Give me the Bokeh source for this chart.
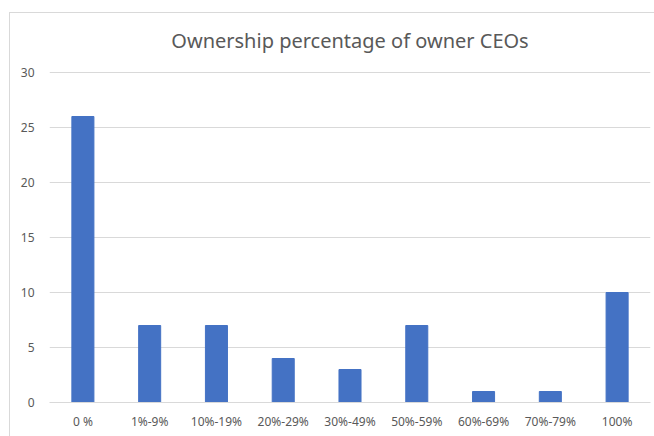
from bokeh.plotting import figure
from bokeh.embed import file_html
from bokeh.resources import INLINE
from bokeh.models import FixedTicker, Label

categories = ["0 %", "1%-9%", "10%-19%", "20%-29%", "30%-49%", "50%-59%", "60%-69%", "70%-79%", "100%"]
counts = [26, 7, 7, 4, 3, 7, 1, 1, 10]
y_ticks = [0, 5, 10, 15, 20, 25, 30]
title_text = "Ownership percentage of owner CEOs"

FONT = "Noto Sans"
TXT = "#595959"

# frame spans from canvas top (px 13) to the zero line (px 402); value 30 sits at px 72
y_top = 30 * (402 - 13) / (402 - 72)

p = figure(x_range=categories, y_range=(0, y_top), width=645, height=424,
           output_backend="svg", toolbar_location=None,
           min_border_left=39, min_border_right=5, min_border_top=0, min_border_bottom=35)
p.margin = (12, 0, 0, 9)
p.styles = {"border-left": "1px solid #D9D9D9", "border-top": "1px solid #D9D9D9"}

p.vbar(x=categories, top=counts, width=0.33, color="#4472C4")

title = Label(x=len(categories) / 2, y=max(y_ticks), y_offset=32, text=title_text,
              text_align="center", text_baseline="middle",
              text_font=FONT, text_font_size="20px", text_color=TXT)
p.add_layout(title)

p.outline_line_color = None
p.xgrid.grid_line_color = None
p.ygrid.grid_line_color = "#D9D9D9"
p.ygrid.grid_line_width = 1

p.yaxis.ticker = FixedTicker(ticks=y_ticks)
for ax in (p.xaxis, p.yaxis):
    ax.axis_line_color = None
    ax.major_tick_line_color = None
    ax.minor_tick_line_color = None
    ax.major_label_text_font = FONT
    ax.major_label_text_font_size = "12px"
    ax.major_label_text_color = TXT
p.xaxis.axis_line_color = "#D9D9D9"
p.xaxis.major_label_standoff = 4
p.yaxis.major_label_standoff = 9
p.x_range.range_padding = 0

open("out.html", "w").write(file_html(p, INLINE))
